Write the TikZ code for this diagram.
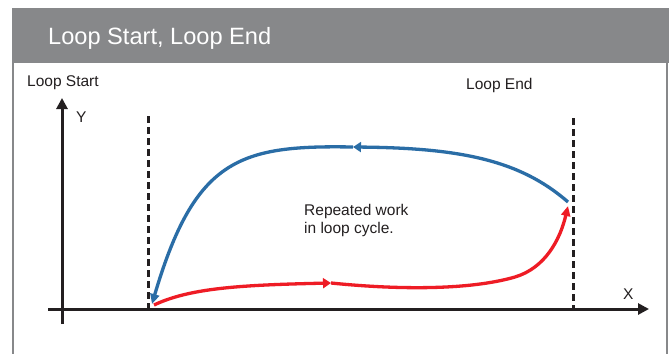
\documentclass[tikz,border=0pt]{standalone}
\usepackage{fontspec}
\setmainfont{Liberation Sans}
\usetikzlibrary{arrows.meta}
\definecolor{hdr}{HTML}{87888A}
\definecolor{axisc}{HTML}{231F20}
\definecolor{bluec}{HTML}{2A6DA6}
\definecolor{redc}{HTML}{EE1C25}
\begin{document}
\begin{tikzpicture}[x=1pt,y=-1pt,
  lbl/.style={font=\fontsize{15.5}{18}\selectfont, text=axisc, inner sep=0pt},
  axisline/.style={line width=3pt, draw=axisc, -{Triangle[length=11pt,width=11pt]}},
  dashline/.style={line width=3pt, draw=axisc, dash pattern=on 7pt off 4pt},
  bluecurve/.style={line width=3.3pt, draw=bluec},
  redcurve/.style={line width=3.3pt, draw=redc},
  midtip/.style={-{Triangle[length=8pt,width=10pt]}},
  endtip/.style={-{Triangle[length=10pt,width=9pt]}},
]
\useasboundingbox (0,0) rectangle (669,354);
\fill[white] (0,0) rectangle (669,354);
% panel borders
\draw[hdr, line width=2pt] (13,62) -- (13,354);
\draw[hdr, line width=2pt] (667,62) -- (667,354);
% header
\fill[hdr] (12,8) rectangle (669,63);
\node[anchor=base west, inner sep=0pt, text=white, font=\fontsize{23.6}{28}\selectfont] (title) at (48,44) {Loop Start, Loop End};
% labels
\node[lbl, anchor=base west] (ls) at (27,86) {Loop Start};
\node[lbl, anchor=base west] (le) at (466,89) {Loop End};
\node[lbl, anchor=base west] (ylab) at (76,122) {Y};
\node[lbl, anchor=base west] (xlab) at (623,299) {X};
\node[lbl, anchor=base west] (txt1) at (304,215) {Repeated work};
\node[lbl, anchor=base west] (txt2) at (304,233) {in loop cycle.};
% axes
\coordinate (xs) at (48,309);
\coordinate (xe) at (649,309);
\coordinate (ys) at (62,324);
\coordinate (ye) at (62,98);
\draw[axisline] (xs) -- (xe);
\draw[axisline] (ys) -- (ye);
% dashed lines
\coordinate (d1t) at (148,116);
\coordinate (d1b) at (148,309);
\coordinate (d2t) at (573,118);
\coordinate (d2b) at (573,309);
\draw[dashline] (d1t) -- (d1b);
\draw[dashline] (d2t) -- (d2b);
% blue curve
\coordinate (b0) at (568,202);
\coordinate (bm) at (353,147);
\coordinate (b1) at (152,304);
\draw[bluecurve, midtip] (b0) .. controls (520,160) and (460,148) .. (bm);
\draw[bluecurve, endtip] (bm) .. controls (240,145) and (195,158) .. (b1);
% red curve
\coordinate (r0) at (154,305);
\coordinate (rm) at (331,283);
\coordinate (rk) at (515,277);
\coordinate (r1) at (568,206);
\draw[redcurve, midtip] (r0) .. controls (190,288) and (240,285) .. (rm);
\draw[redcurve, endtip] (rm) .. controls (400,290) and (470,290) .. (rk) .. controls (545,268) and (560,240) .. (r1);
\end{tikzpicture}
\end{document}
